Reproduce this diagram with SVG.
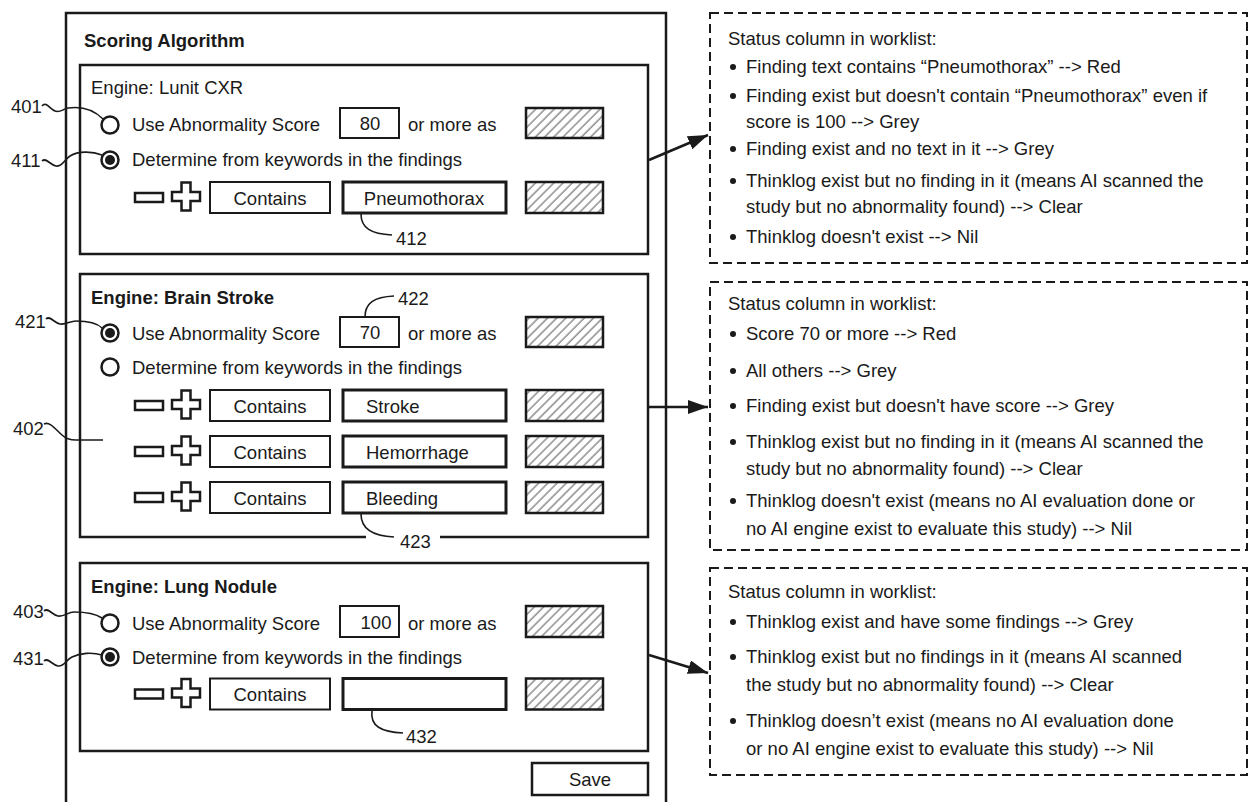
<svg xmlns="http://www.w3.org/2000/svg" width="1250" height="802" viewBox="0 0 1250 802">
<style>
 text { font-family: "Liberation Sans", Arial, sans-serif; font-size: 18.5px; fill: #1a1a1a; }
 .b { font-weight: bold; }
 .c { text-anchor: middle; }
 .box { fill: none; stroke: #1a1a1a; stroke-width: 2.5; }
 .fld { fill: #fff; stroke: #1a1a1a; stroke-width: 2; }
 .kw { fill: #fff; stroke: #1a1a1a; stroke-width: 3; }
 .hat { fill: url(#hatch); stroke: #1a1a1a; stroke-width: 2.5; }
 .icon { fill: #fff; stroke: #1a1a1a; stroke-width: 2.5; }
 .lead { fill: none; stroke: #1a1a1a; stroke-width: 1.6; }
 .dash { fill: none; stroke: #1a1a1a; stroke-width: 2; stroke-dasharray: 9 5; }
 .arr { fill: none; stroke: #1a1a1a; stroke-width: 2.5; marker-end: url(#ah); }
 .rad { fill: #fff; stroke: #1a1a1a; stroke-width: 2.5; }
 .dot { fill: #1a1a1a; }
</style>
<defs>
 <pattern id="hatch" patternUnits="userSpaceOnUse" width="6.5" height="6.5" patternTransform="rotate(45)">
  <rect width="6.5" height="6.5" fill="#fff"/>
  <line x1="1" y1="0" x2="1" y2="6.5" stroke="#555" stroke-width="1"/>
 </pattern>
 <marker id="ah" viewBox="0 0 20 14" refX="20" refY="7" markerWidth="20" markerHeight="14" markerUnits="userSpaceOnUse" orient="auto">
  <path d="M0,0 L20,7 L0,14 z" fill="#1a1a1a"/>
 </marker>
 <g id="mp">
  <rect class="icon" x="135" y="-4.5" width="28" height="9"/>
  <path class="icon" d="M181.5,-15 h9 v9.5 h9.5 v9 h-9.5 v9.5 h-9 v-9.5 h-9.5 v-9 h9.5 z"/>
 </g>
</defs>
<rect width="1250" height="802" fill="#fff"/>

<g id="frame">
 <path class="box" d="M66,830 V13 H666 V830"/>
 <text class="b" x="84" y="47">Scoring Algorithm</text>
</g>

<g id="engine-lunit">
 <rect class="box" x="80" y="65" width="568" height="189"/>
 <text x="91" y="94">Engine: Lunit CXR</text>
 <circle class="rad" cx="110" cy="125" r="8.5"/>
 <text x="132" y="131">Use Abnormality Score</text>
 <rect class="fld" x="340" y="108" width="59" height="30"/>
 <text class="c" x="370" y="130">80</text>
 <text x="408" y="131">or more as</text>
 <rect class="hat" x="526" y="108" width="77" height="30"/>
 <circle class="rad" cx="110" cy="160" r="8.5"/><circle class="dot" cx="110" cy="160" r="5"/>
 <text x="132" y="166">Determine from keywords in the findings</text>
 <use href="#mp" y="197.5"/>
 <rect class="fld" x="210" y="182" width="120" height="31"/>
 <text class="c" x="270" y="204.5">Contains</text>
 <rect class="kw" x="343" y="182" width="163" height="31"/>
 <text class="c" x="424" y="204.5">Pneumothorax</text>
 <rect class="hat" x="526" y="182" width="77" height="31"/>
 <path class="lead" d="M361,214 C361,228 371,234 392,235"/>
 <text x="396" y="245">412</text>
 <text x="11" y="113">401</text>
 <path class="lead" d="M42,106 C46,101 50,109 55,111 C60,113 63,109 68,108 C82,106 94,110 103,119"/>
 <text x="11" y="167">411</text>
 <path class="lead" d="M42,161 C46,157 50,165 56,166 C62,167 64,160 70,156 C78,151 92,151 102,155"/>
</g>

<g id="engine-brain">
 <path class="box" d="M366,537 H80 V274 H648 V537 H440"/>
 <text class="b" x="91" y="304">Engine: Brain Stroke</text>
 <circle class="rad" cx="110" cy="333" r="8.5"/><circle class="dot" cx="110" cy="333" r="5"/>
 <text x="132" y="340">Use Abnormality Score</text>
 <rect class="fld" x="340" y="317" width="59" height="30"/>
 <text class="c" x="370" y="339">70</text>
 <text x="408" y="340">or more as</text>
 <rect class="hat" x="526" y="317" width="77" height="30"/>
 <circle class="rad" cx="110" cy="367" r="8.5"/>
 <text x="132" y="374">Determine from keywords in the findings</text>
 <use href="#mp" y="405.5"/>
 <rect class="fld" x="210" y="390" width="120" height="31"/>
 <text class="c" x="270" y="412.5">Contains</text>
 <rect class="kw" x="343" y="390" width="163" height="31"/>
 <text x="366" y="412.5">Stroke</text>
 <rect class="hat" x="526" y="390" width="77" height="31"/>
 <use href="#mp" y="451.5"/>
 <rect class="fld" x="210" y="436" width="120" height="31"/>
 <text class="c" x="270" y="458.5">Contains</text>
 <rect class="kw" x="343" y="436" width="163" height="31"/>
 <text x="366" y="458.5">Hemorrhage</text>
 <rect class="hat" x="526" y="436" width="77" height="31"/>
 <use href="#mp" y="497.5"/>
 <rect class="fld" x="210" y="482" width="120" height="31"/>
 <text class="c" x="270" y="504.5">Contains</text>
 <rect class="kw" x="343" y="482" width="163" height="31"/>
 <text x="366" y="504.5">Bleeding</text>
 <rect class="hat" x="526" y="482" width="77" height="31"/>
 <path class="lead" d="M365,317 C365,303 374,297 394,296"/>
 <text x="398" y="305">422</text>
 <path class="lead" d="M361,514 C361,528 372,536 394,537"/>
 <text x="400" y="548">423</text>
 <text x="15" y="328">421</text>
 <path class="lead" d="M46,319 C50,315 54,323 60,324 C66,325 70,321 76,321 C86,321 96,322 102,328"/>
 <text x="13" y="435">402</text>
 <path class="lead" d="M44,424 C50,421 56,430 62,435 C66,439 70,440 76,440 L103,440"/>
</g>

<g id="engine-lung">
 <rect class="box" x="80" y="563" width="568" height="188"/>
 <text class="b" x="91" y="593">Engine: Lung Nodule</text>
 <circle class="rad" cx="110" cy="623" r="8.5"/>
 <text x="132" y="630">Use Abnormality Score</text>
 <rect class="fld" x="340" y="606" width="59" height="31"/>
 <text class="c" x="376" y="629">100</text>
 <text x="408" y="630">or more as</text>
 <rect class="hat" x="526" y="606" width="77" height="31"/>
 <circle class="rad" cx="110" cy="657" r="8.5"/><circle class="dot" cx="110" cy="657" r="5"/>
 <text x="132" y="664">Determine from keywords in the findings</text>
 <use href="#mp" y="694"/>
 <rect class="fld" x="210" y="678.5" width="120" height="31"/>
 <text class="c" x="270" y="701">Contains</text>
 <rect class="kw" x="343" y="678.5" width="163" height="31"/>
 <rect class="hat" x="526" y="678.5" width="77" height="31"/>
 <path class="lead" d="M372,711 C370,726 381,732 403,733"/>
 <text x="406" y="743">432</text>
 <text x="13" y="618">403</text>
 <path class="lead" d="M44,611 C48,607 52,615 58,616 C64,617 68,612 74,612 C86,612 96,614 102,618"/>
 <text x="13" y="665">431</text>
 <path class="lead" d="M44,661 C48,657 52,665 58,666 C64,667 66,660 72,657 C80,653 92,652 102,655"/>
</g>

<g id="save">
 <rect class="box" x="532" y="763" width="116" height="32"/>
 <text class="c" x="590" y="786">Save</text>
</g>

<g id="status-lunit">
 <rect class="dash" x="710" y="13" width="537" height="250"/>
 <text x="728" y="45">Status column in worklist:</text>
 <circle class="dot" cx="733" cy="67" r="3"/><text x="746" y="73">Finding text contains “Pneumothorax” --&gt; Red</text>
 <circle class="dot" cx="733" cy="96" r="3"/><text x="746" y="102">Finding exist but doesn't contain “Pneumothorax” even if</text>
 <text x="746" y="128">score is 100 --&gt; Grey</text>
 <circle class="dot" cx="733" cy="149" r="3"/><text x="746" y="155">Finding exist and no text in it --&gt; Grey</text>
 <circle class="dot" cx="733" cy="181" r="3"/><text x="746" y="187">Thinklog exist but no finding in it (means AI scanned the</text>
 <text x="746" y="213">study but no abnormality found) --&gt; Clear</text>
 <circle class="dot" cx="733" cy="237" r="3"/><text x="746" y="243">Thinklog doesn't exist --&gt; Nil</text>
</g>

<g id="status-brain">
 <rect class="dash" x="710" y="282" width="537" height="268"/>
 <text x="728" y="310">Status column in worklist:</text>
 <circle class="dot" cx="733" cy="334" r="3"/><text x="746" y="340">Score 70 or more --&gt; Red</text>
 <circle class="dot" cx="733" cy="371" r="3"/><text x="746" y="377">All others --&gt; Grey</text>
 <circle class="dot" cx="733" cy="406" r="3"/><text x="746" y="412">Finding exist but doesn't have score --&gt; Grey</text>
 <circle class="dot" cx="733" cy="442" r="3"/><text x="746" y="448">Thinklog exist but no finding in it (means AI scanned the</text>
 <text x="746" y="475">study but no abnormality found) --&gt; Clear</text>
 <circle class="dot" cx="733" cy="501" r="3"/><text x="746" y="507">Thinklog doesn't exist (means no AI evaluation done or</text>
 <text x="746" y="535">no AI engine exist to evaluate this study) --&gt; Nil</text>
</g>

<g id="status-lung">
 <rect class="dash" x="710" y="568" width="537" height="207"/>
 <text x="728" y="598">Status column in worklist:</text>
 <circle class="dot" cx="733" cy="622" r="3"/><text x="746" y="628">Thinklog exist and have some findings --&gt; Grey</text>
 <circle class="dot" cx="733" cy="657" r="3"/><text x="746" y="663">Thinklog exist but no findings in it (means AI scanned</text>
 <text x="746" y="691">the study but no abnormality found) --&gt; Clear</text>
 <circle class="dot" cx="733" cy="721" r="3"/><text x="746" y="727">Thinklog doesn’t exist (means no AI evaluation done</text>
 <text x="746" y="755">or no AI engine exist to evaluate this study) --&gt; Nil</text>
</g>

<g id="connectors">
 <line class="arr" x1="649" y1="160" x2="708" y2="135"/>
 <line class="arr" x1="648" y1="407" x2="708" y2="407"/>
 <line class="arr" x1="649" y1="655" x2="708" y2="673"/>
</g>
</svg>
